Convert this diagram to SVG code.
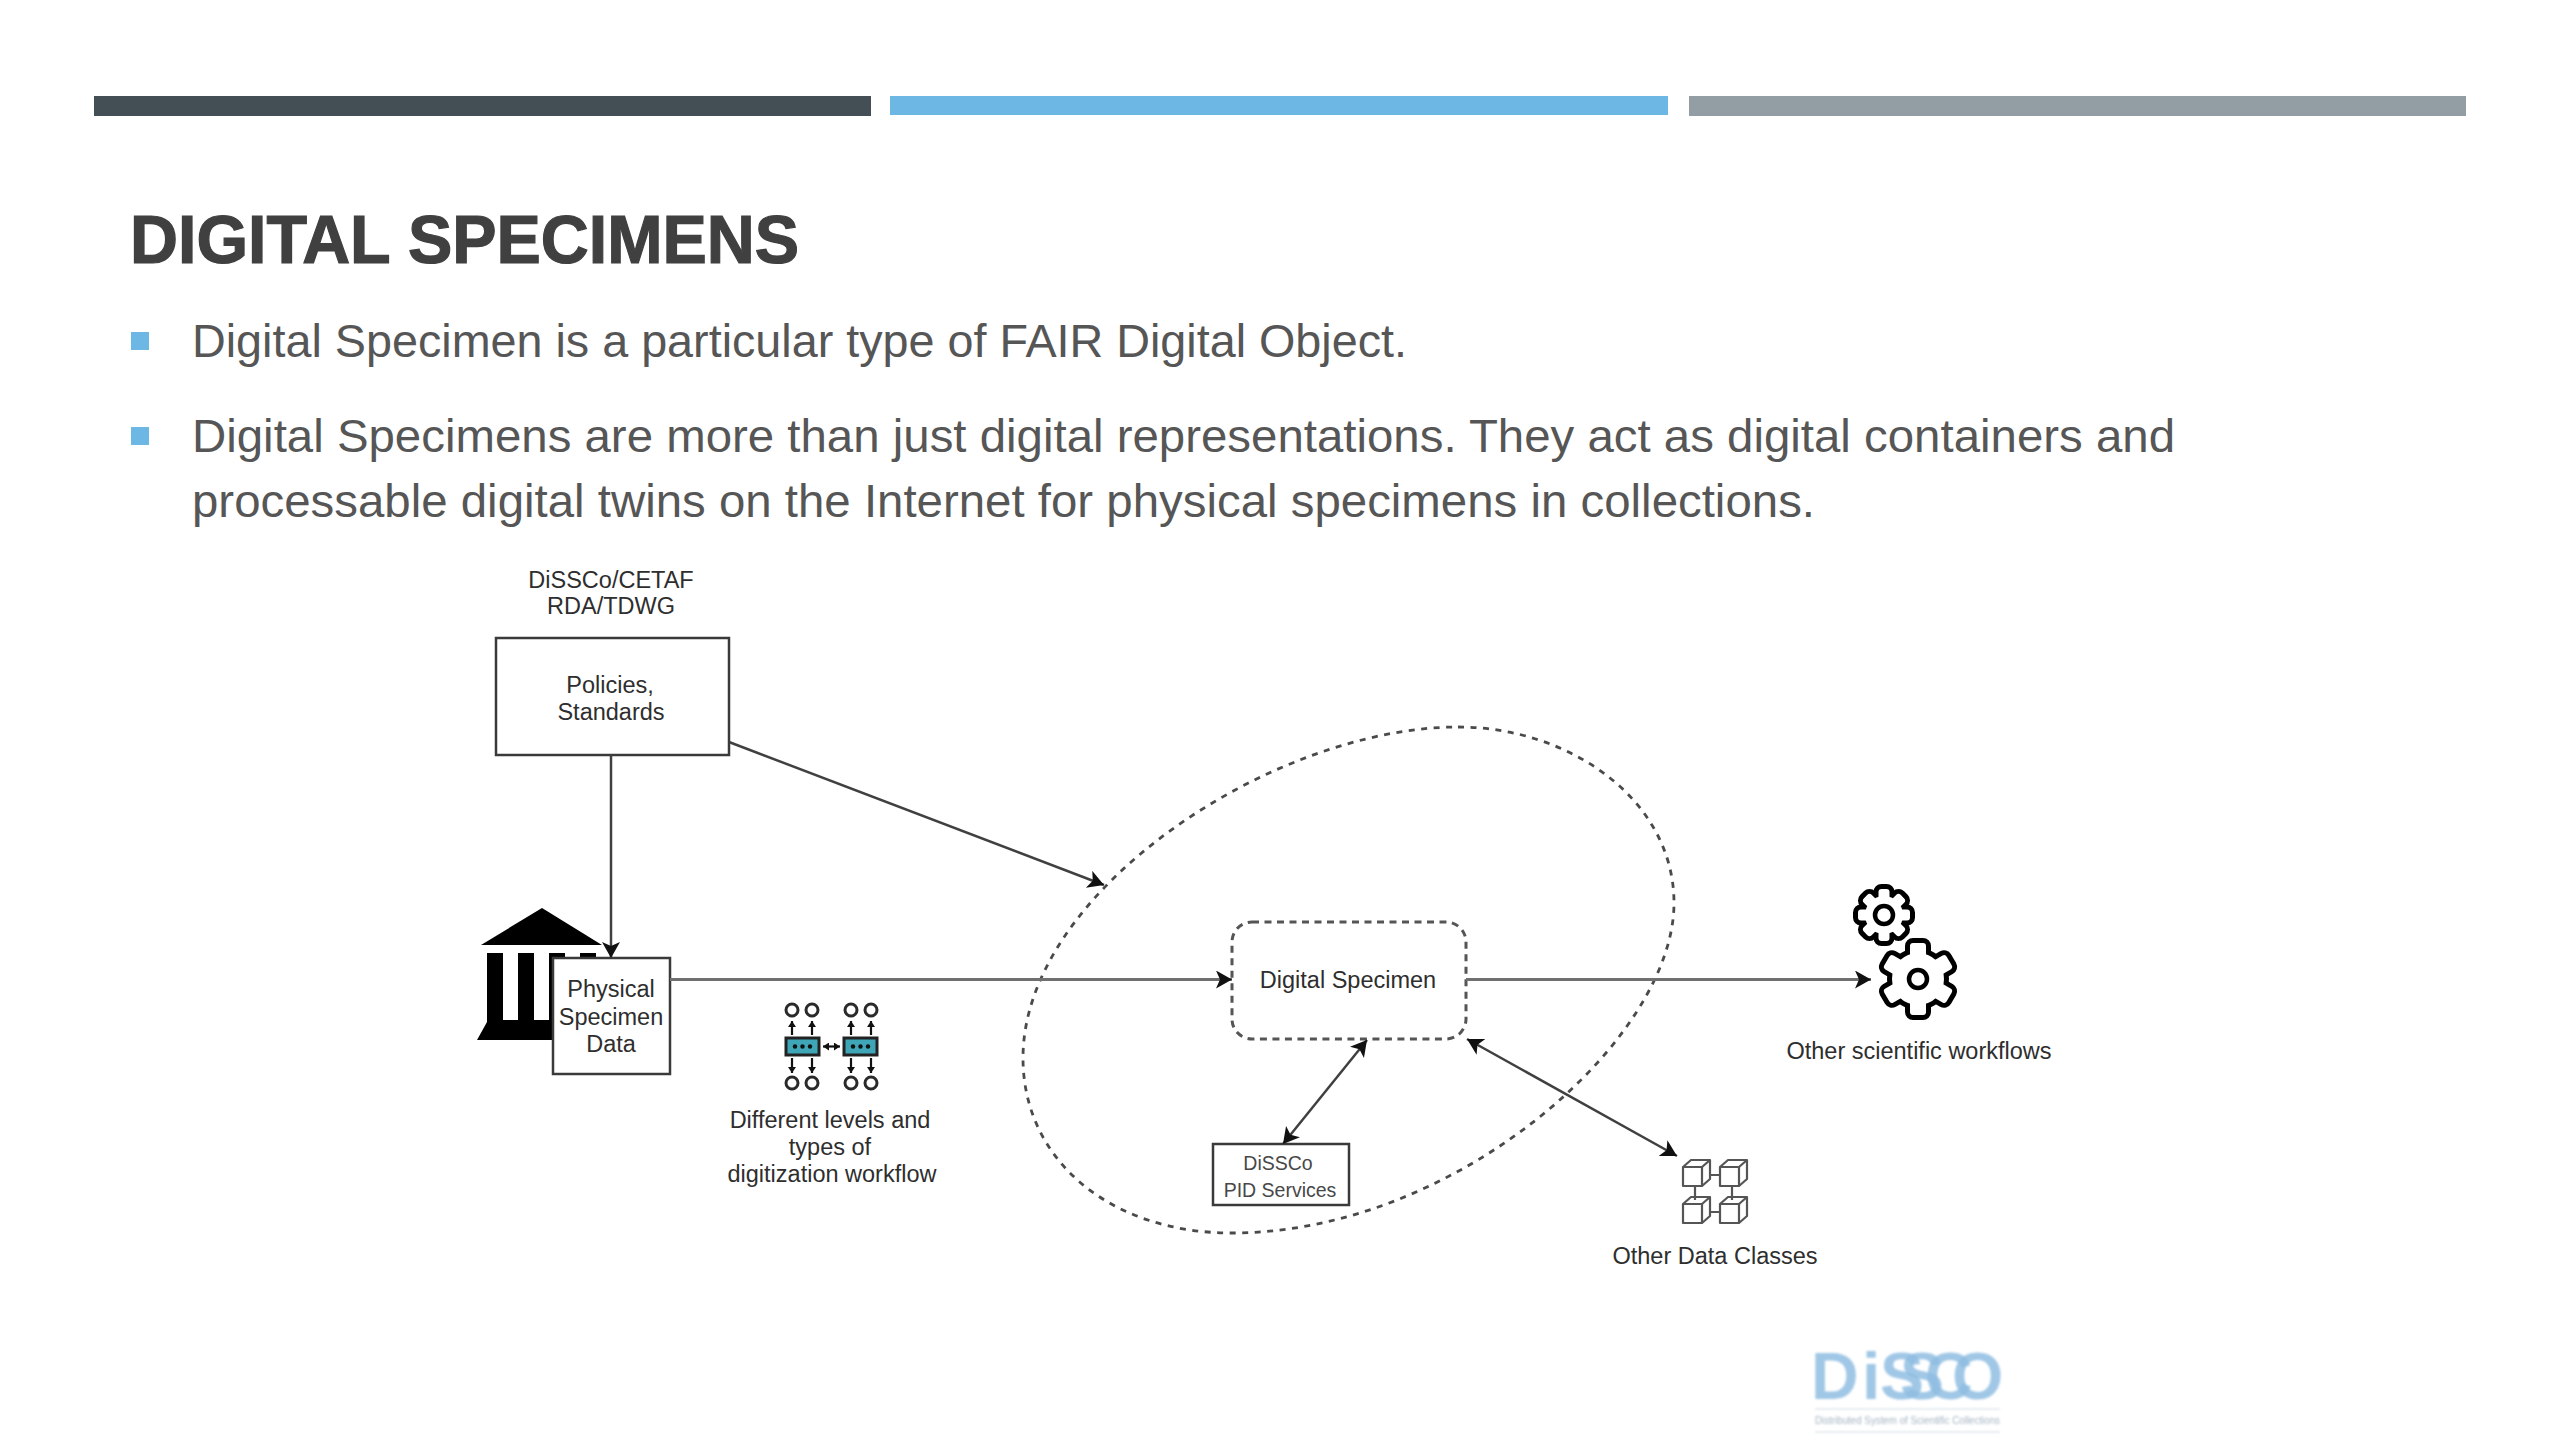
<svg xmlns="http://www.w3.org/2000/svg" xmlns:xlink="http://www.w3.org/1999/xlink" width="2560" height="1440" viewBox="0 0 2560 1440">
<style>
text{font-family:"Liberation Sans",Arial,sans-serif}
.lb{font-size:23.5px;fill:#2e2e2e;text-anchor:middle}
.sm{font-size:19.5px;fill:#484848;text-anchor:middle}
.body{font-size:46px;fill:#565656}
.box{fill:#fff;stroke:#3a3a3a;stroke-width:2.5}
.cn{fill:none;stroke:#404040;stroke-width:2.5}
.cn2{fill:none;stroke:#707070;stroke-width:3}
.dash{fill:none;stroke:#4a4a4a;stroke-width:2.8;stroke-dasharray:6 6.5}
.dig{fill:none;stroke:#2a2a2a;stroke-width:3}
.ar{fill:none;stroke:#111;stroke-width:2.2}
.cube{fill:none;stroke:#555;stroke-width:2.2;stroke-linejoin:round}
</style>
<defs>
<marker id="ah" markerUnits="userSpaceOnUse" markerWidth="20" markerHeight="20" refX="16" refY="9" orient="auto-start-reverse"><path d="M0 0L16 9L0 18L4 9Z" fill="#111"/></marker>
<marker id="ai" markerUnits="userSpaceOnUse" markerWidth="8" markerHeight="8" refX="6" refY="4" orient="auto-start-reverse"><path d="M0 0L6 4L0 8Z" fill="#111"/></marker>
<g id="g6"><circle r="26"/><rect x="-8" y="-36" width="16" height="36" rx="3"/><rect x="-8" y="-36" width="16" height="36" rx="3" transform="rotate(60)"/><rect x="-8" y="-36" width="16" height="36" rx="3" transform="rotate(120)"/><rect x="-8" y="-36" width="16" height="36" rx="3" transform="rotate(180)"/><rect x="-8" y="-36" width="16" height="36" rx="3" transform="rotate(240)"/><rect x="-8" y="-36" width="16" height="36" rx="3" transform="rotate(300)"/></g>
<g id="g8"><circle r="19"/><rect x="-5.5" y="-26" width="11" height="26" rx="3"/><rect x="-5.5" y="-26" width="11" height="26" rx="3" transform="rotate(45)"/><rect x="-5.5" y="-26" width="11" height="26" rx="3" transform="rotate(90)"/><rect x="-5.5" y="-26" width="11" height="26" rx="3" transform="rotate(135)"/><rect x="-5.5" y="-26" width="11" height="26" rx="3" transform="rotate(180)"/><rect x="-5.5" y="-26" width="11" height="26" rx="3" transform="rotate(225)"/><rect x="-5.5" y="-26" width="11" height="26" rx="3" transform="rotate(270)"/><rect x="-5.5" y="-26" width="11" height="26" rx="3" transform="rotate(315)"/></g>
<g id="cb"><rect x="0" y="0" width="19" height="19"/><path d="M0 0L8 -7H27V12L19 19M19 0L27 -7"/></g>
<filter id="soft" x="-5%" y="-5%" width="110%" height="110%"><feGaussianBlur stdDeviation="1.1"/></filter>
</defs>
<rect width="2560" height="1440" fill="#fff"/>

<g id="header-bars">
<rect x="94" y="96" width="777" height="20" fill="#434f54"/>
<rect x="890" y="96" width="778" height="19" fill="#6cb7e4"/>
<rect x="1689" y="96" width="777" height="20" fill="#939ea4"/>
</g>

<g id="slide-text">
<text x="130" y="263" font-size="68" font-weight="700" fill="#404040" stroke="#404040" stroke-width="1.2" textLength="669" lengthAdjust="spacingAndGlyphs">DIGITAL SPECIMENS</text>
<rect x="131" y="332" width="18" height="18" fill="#6cb7e4"/>
<rect x="131" y="427" width="18" height="18" fill="#6cb7e4"/>
<text class="body" x="192" y="357" textLength="1215" lengthAdjust="spacingAndGlyphs">Digital Specimen is a particular type of FAIR Digital Object.</text>
<text class="body" x="192" y="452" textLength="1983" lengthAdjust="spacingAndGlyphs">Digital Specimens are more than just digital representations. They act as digital containers and</text>
<text class="body" x="192" y="517" textLength="1623" lengthAdjust="spacingAndGlyphs">processable digital twins on the Internet for physical specimens in collections.</text>
</g>

<g id="boundary"><path class="dash" d="M1458 727C1570 727 1674 800 1674 903C1674 1040 1455 1233 1232 1233C1110 1233 1023 1160 1023 1058C1023 890 1275 727 1458 727Z"/></g>

<g id="museum">
<path d="M542 908L602 945H481Z" fill="#000"/>
<path d="M487 953H503V1020H518V953H534V1020H549V953H565V1020H580V953H596V1040H477L487 1022Z" fill="#000"/>
</g>

<g id="policies"><rect class="box" x="496" y="638" width="233" height="117"/>
<text class="lb" x="610" y="693">Policies,</text><text class="lb" x="611" y="720">Standards</text></g>
<g id="standards-label"><text class="lb" x="611" y="588">DiSSCo/CETAF</text><text class="lb" x="611" y="614">RDA/TDWG</text></g>

<g id="physical"><rect class="box" x="553" y="958" width="117" height="116"/>
<text class="lb" x="611" y="997">Physical</text><text class="lb" x="611" y="1025">Specimen</text><text class="lb" x="611" y="1052">Data</text></g>

<g id="digital-specimen"><rect x="1232" y="922" width="234" height="117" rx="20" fill="none" stroke="#555" stroke-width="3" stroke-dasharray="7 5.5"/>
<text class="lb" x="1348" y="988">Digital Specimen</text></g>

<g id="pid"><rect class="box" x="1213" y="1144" width="136" height="61"/>
<text class="sm" x="1278" y="1170">DiSSCo</text><text class="sm" x="1280" y="1197">PID Services</text></g>

<g id="connectors">
<path class="cn" d="M611 755V958" marker-end="url(#ah)"/>
<path class="cn" d="M729 742L1104 885" marker-end="url(#ah)"/>
<path class="cn2" d="M670 979.500H1232" marker-end="url(#ah)"/>
<path class="cn2" d="M1466 979.500H1871" marker-end="url(#ah)"/>
<path class="cn" d="M1367 1040L1283 1144" marker-start="url(#ah)" marker-end="url(#ah)"/>
<path class="cn" d="M1467 1039L1677 1156" marker-start="url(#ah)" marker-end="url(#ah)"/>
</g>

<g id="digitization">
<g class="dig">
<circle cx="792" cy="1010" r="6"/><circle cx="812" cy="1010" r="6"/><circle cx="851" cy="1010" r="6"/><circle cx="871" cy="1010" r="6"/>
<circle cx="792" cy="1083" r="6"/><circle cx="812" cy="1083" r="6"/><circle cx="851" cy="1083" r="6"/><circle cx="871" cy="1083" r="6"/>
</g>
<rect x="786" y="1038" width="33" height="17" fill="#3fa6b8" stroke="#222" stroke-width="3"/>
<rect x="844" y="1038" width="33" height="17" fill="#3fa6b8" stroke="#222" stroke-width="3"/>
<g fill="#111"><circle cx="795" cy="1046.500" r="2.200"/><circle cx="802.500" cy="1046.500" r="2.200"/><circle cx="810" cy="1046.500" r="2.200"/><circle cx="853" cy="1046.500" r="2.200"/><circle cx="860.500" cy="1046.500" r="2.200"/><circle cx="868" cy="1046.500" r="2.200"/></g>
<g class="ar">
<path d="M792 1035V1021" marker-end="url(#ai)"/><path d="M812 1035V1021" marker-end="url(#ai)"/><path d="M851 1035V1021" marker-end="url(#ai)"/><path d="M871 1035V1021" marker-end="url(#ai)"/>
<path d="M792 1058V1073" marker-end="url(#ai)"/><path d="M812 1058V1073" marker-end="url(#ai)"/><path d="M851 1058V1073" marker-end="url(#ai)"/><path d="M871 1058V1073" marker-end="url(#ai)"/>
<path d="M823 1046.500H840" marker-start="url(#ai)" marker-end="url(#ai)"/>
</g>
<text class="lb" x="830" y="1128">Different levels and</text><text class="lb" x="830" y="1155">types of</text><text class="lb" x="832" y="1182">digitization workflow</text>
</g>

<g id="workflows">
<use xlink:href="#g8" href="#g8" transform="translate(1884 915)" fill="#000" stroke="#000" stroke-width="10"/>
<use xlink:href="#g8" href="#g8" transform="translate(1884 915)" fill="#fff"/>
<circle cx="1884" cy="915" r="9" fill="#fff" stroke="#000" stroke-width="4.500"/>
<use xlink:href="#g6" href="#g6" transform="translate(1918 979)" fill="#000" stroke="#000" stroke-width="10"/>
<use xlink:href="#g6" href="#g6" transform="translate(1918 979)" fill="#fff"/>
<circle cx="1918" cy="979" r="9" fill="#fff" stroke="#000" stroke-width="4.500"/>
<text class="lb" x="1919" y="1059">Other scientific workflows</text>
</g>

<g id="data-classes">
<g class="cube">
<use xlink:href="#cb" href="#cb" x="1683" y="1167"/><use xlink:href="#cb" href="#cb" x="1720" y="1167"/>
<use xlink:href="#cb" href="#cb" x="1683" y="1204"/><use xlink:href="#cb" href="#cb" x="1720" y="1204"/>
<path d="M1710 1175H1720M1710 1212H1720M1695 1186V1200M1732 1186V1200"/>
</g>
<text class="lb" x="1715" y="1264">Other Data Classes</text>
</g>

<g id="logo" filter="url(#soft)">
<text x="1811 1862 1880 1900 1925 1952" y="1399" font-size="66" font-weight="700" fill="#8fbde2" fill-opacity="0.85">DiSSCO</text>
<path d="M1815 1409H2000M1815 1432H2000" stroke="#dfe6ec" stroke-width="1.500"/>
<text x="1815" y="1424" font-size="11" fill="#a5b6c4" textLength="185" lengthAdjust="spacingAndGlyphs">Distributed System of Scientific Collections</text>
</g>
</svg>
